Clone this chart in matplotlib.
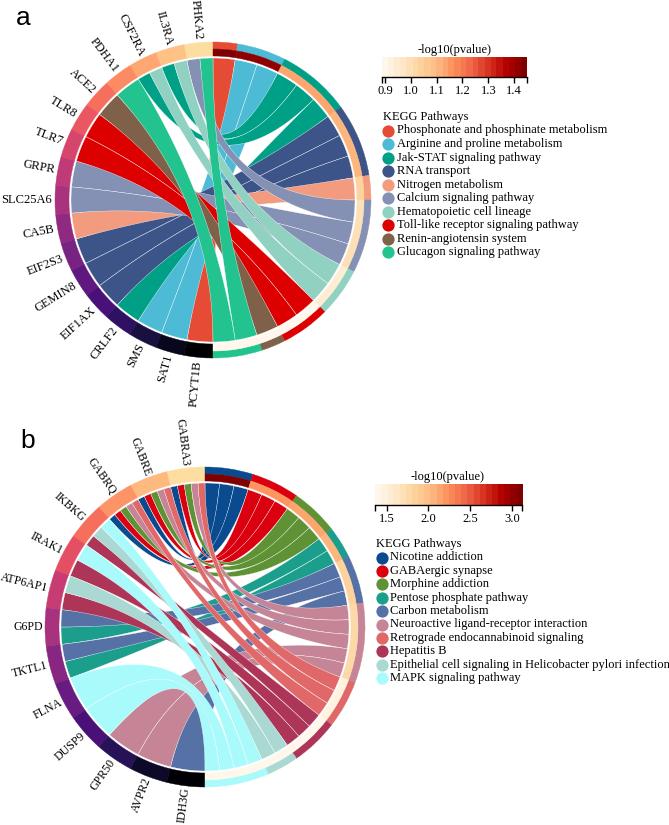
import numpy as np
import matplotlib
matplotlib.use('Agg')
import matplotlib.pyplot as plt
from matplotlib.patches import Wedge, Polygon
from matplotlib.colors import Normalize

plt.rcParams['font.family'] = ['Liberation Serif', 'DejaVu Serif']

# ---------------- Panel a data ----------------
genes_a = ['PHKA2', 'IL3RA', 'CSF2RA', 'PDHA1', 'ACE2', 'TLR8', 'TLR7', 'GRPR',
           'SLC25A6', 'CA5B', 'EIF2S3', 'GEMIN8', 'EIF1AX', 'CRLF2', 'SMS', 'SAT1', 'PCYT1B']
terms_a = ['Phosphonate and phosphinate metabolism', 'Arginine and proline metabolism',
           'Jak-STAT signaling pathway', 'RNA transport', 'Nitrogen metabolism',
           'Calcium signaling pathway', 'Hematopoietic cell lineage',
           'Toll-like receptor signaling pathway', 'Renin-angiotensin system',
           'Glucagon signaling pathway']
term_colors_a = ['#E64B35', '#4DBBD5', '#00A087', '#3C5488', '#F39B7F',
                 '#8491B4', '#91D1C2', '#DC0000', '#7E6148', '#22C38E']
logp_a = [1.44, 1.42, 1.13, 1.12, 1.03, 1.00, 0.95, 0.90, 0.90, 0.90]
links_a = {
    'PHKA2': ['Calcium signaling pathway', 'Glucagon signaling pathway'],
    'IL3RA': ['Jak-STAT signaling pathway', 'Hematopoietic cell lineage'],
    'CSF2RA': ['Jak-STAT signaling pathway', 'Hematopoietic cell lineage'],
    'PDHA1': ['Glucagon signaling pathway'],
    'ACE2': ['Renin-angiotensin system'],
    'TLR8': ['Toll-like receptor signaling pathway'],
    'TLR7': ['Toll-like receptor signaling pathway'],
    'GRPR': ['Calcium signaling pathway'],
    'SLC25A6': ['Calcium signaling pathway'],
    'CA5B': ['Nitrogen metabolism'],
    'EIF2S3': ['RNA transport'],
    'GEMIN8': ['RNA transport'],
    'EIF1AX': ['RNA transport'],
    'CRLF2': ['Jak-STAT signaling pathway'],
    'SMS': ['Arginine and proline metabolism'],
    'SAT1': ['Arginine and proline metabolism'],
    'PCYT1B': ['Phosphonate and phosphinate metabolism'],
}
cbar_range_a = (0.888, 1.45)
cbar_ticks_a = [0.9, 1.0, 1.1, 1.2, 1.3, 1.4]

# ---------------- Panel b data ----------------
genes_b = ['GABRA3', 'GABRE', 'GABRQ', 'IKBKG', 'IRAK1', 'ATP6AP1', 'G6PD', 'TKTL1',
           'FLNA', 'DUSP9', 'GPR50', 'AVPR2', 'IDH3G']
terms_b = ['Nicotine addiction', 'GABAergic synapse', 'Morphine addiction',
           'Pentose phosphate pathway', 'Carbon metabolism',
           'Neuroactive ligand-receptor interaction', 'Retrograde endocannabinoid signaling',
           'Hepatitis B', 'Epithelial cell signaling in Helicobacter pylori infection',
           'MAPK signaling pathway']
term_colors_b = ['#0A4A8E', '#DA0010', '#5E9234', '#1B9E8C', '#5671A6',
                 '#C68596', '#E06868', '#AD3558', '#A9D9D2', '#A9FAFA']
logp_b = [3.08, 2.20, 2.15, 2.05, 1.85, 1.75, 1.50, 1.42, 1.40, 1.37]
gaba_terms = ['Nicotine addiction', 'GABAergic synapse', 'Morphine addiction',
              'Neuroactive ligand-receptor interaction', 'Retrograde endocannabinoid signaling']
links_b = {
    'GABRA3': gaba_terms,
    'GABRE': gaba_terms,
    'GABRQ': gaba_terms,
    'IKBKG': ['Hepatitis B', 'Epithelial cell signaling in Helicobacter pylori infection',
              'MAPK signaling pathway'],
    'IRAK1': ['Hepatitis B', 'MAPK signaling pathway'],
    'ATP6AP1': ['Hepatitis B', 'Epithelial cell signaling in Helicobacter pylori infection'],
    'G6PD': ['Pentose phosphate pathway', 'Carbon metabolism'],
    'TKTL1': ['Pentose phosphate pathway', 'Carbon metabolism'],
    'FLNA': ['MAPK signaling pathway'],
    'DUSP9': ['MAPK signaling pathway'],
    'GPR50': ['Neuroactive ligand-receptor interaction'],
    'AVPR2': ['Neuroactive ligand-receptor interaction'],
    'IDH3G': ['Carbon metabolism'],
}
cbar_range_b = (1.36, 3.12)
cbar_ticks_b = [1.5, 2.0, 2.5, 3.0]

# ---------------- helpers ----------------
W, H = 669, 825
FS = 9
fig = plt.figure(figsize=(W / 100, H / 100), dpi=100)
cmap = matplotlib.colormaps['OrRd'].resampled(24)


def px_axes(x0, y0, w, h):
    return fig.add_axes([x0 / W, 1 - (y0 + h) / H, w / W, h / H])


def P(ang, r):
    a = np.deg2rad(ang)
    return np.array([r * np.cos(a), r * np.sin(a)])


def arc(a0, a1, r, n=40):
    t = np.deg2rad(np.linspace(a0, a1, n))
    return np.column_stack([r * np.cos(t), r * np.sin(t)])


def bez(p0, p2, n=80):
    t = np.linspace(0, 1, n)[:, None]
    return (1 - t) ** 2 * p0 + t ** 2 * p2


def chord(cx, cy, R, genes, terms, links, tcolors, logp, vrange, lfs, lpad):
    h = 215
    ax = px_axes(cx - h, cy - h, 2 * h, 2 * h)
    ax.set_xlim(-h, h)
    ax.set_ylim(-h, h)
    ax.axis('off')
    norm = Normalize(*vrange)
    ng = len(genes)
    w = 180.0 / ng
    gcols = matplotlib.colormaps['magma'](np.linspace(0.93, 0.0, ng))
    counts = [sum(t in links[g] for g in genes) for t in terms]
    total = sum(counts)
    u = 180.0 / total
    tops = [90 - u * sum(counts[:k]) for k in range(len(terms))]
    rr = R - 16
    # gene slots
    gslot = {}
    for i, g in enumerate(genes):
        tl = sorted([terms.index(t) for t in links[g]], reverse=True)
        k = len(tl)
        for j, ti in enumerate(tl):
            a0 = 90 + i * w + j * w / k
            gslot[(i, ti)] = (a0, a0 + w / k)
    # term slots
    tslot = {}
    for ti, t in enumerate(terms):
        gl = [i for i, g in enumerate(genes) if t in links[g]]
        for j, i in enumerate(gl):
            b1 = tops[ti] - j * u
            tslot[(i, ti)] = (b1 - u, b1)
    # ribbons
    pairs = sorted(gslot.keys(), key=lambda p: (p[1], p[0]))
    for (i, ti) in pairs:
        ga0, ga1 = gslot[(i, ti)]
        tb0, tb1 = tslot[(i, ti)]
        pts = np.vstack([arc(ga0, ga1, rr), bez(P(ga1, rr), P(tb0, rr)),
                         arc(tb0, tb1, rr), bez(P(tb1, rr), P(ga0, rr))])
        ax.add_patch(Polygon(pts, closed=True, fc=tcolors[ti], ec='white', lw=0.25))
    # gene ring + labels
    for i, g in enumerate(genes):
        a0 = 90 + i * w
        ax.add_patch(Wedge((0, 0), R, a0, a0 + w, width=14, fc=gcols[i], ec=gcols[i], lw=0.3))
        mid = a0 + w / 2
        x, y = P(mid, R + lpad)
        ax.text(x, y, g, rotation=mid - 180, rotation_mode='anchor', ha='right',
                va='center', fontsize=lfs)
    # term rings
    for ti in range(len(terms)):
        b1 = tops[ti]
        b0 = b1 - counts[ti] * u
        ax.add_patch(Wedge((0, 0), R, b0, b1, width=7, fc=tcolors[ti], ec=tcolors[ti], lw=0.3))
        pc = cmap(norm(logp[ti]))
        ax.add_patch(Wedge((0, 0), R - 7, b0, b1, width=7, fc=pc, ec=pc, lw=0.3))
    return ax


def colorbar(x0, y0, w, h, vrange, ticks):
    cax = px_axes(x0, y0, w, h)
    vmin, vmax = vrange
    grad = np.linspace(vmin, vmax, 256)[None, :]
    cax.imshow(grad, aspect='auto', cmap=cmap, norm=Normalize(vmin, vmax),
               extent=[vmin, vmax, 0, 1], interpolation='nearest')
    cax.set_xlim(vmin, vmax)
    cax.set_ylim(0, 1)
    cax.set_yticks([])
    for s in ['top', 'left', 'right']:
        cax.spines[s].set_visible(False)
    cax.spines['bottom'].set_linewidth(1.0)
    cax.set_xticks(ticks)
    cax.set_xticklabels([f'{t:.1f}' for t in ticks])
    cax.set_xticks([vmin, vmax], minor=True)
    cax.tick_params(axis='x', which='both', length=4, width=1, direction='out',
                    labelsize=FS, pad=2)
    return cax


chord(213, 200, 158, genes_a, terms_a, links_a, term_colors_a, logp_a, cbar_range_a, 9, 3)
chord(205, 627, 160, genes_b, terms_b, links_b, term_colors_b, logp_b, cbar_range_b, 8.6, 2)

colorbar(382, 57, 145, 20, cbar_range_a, cbar_ticks_a)
colorbar(375, 484, 147, 21, cbar_range_b, cbar_ticks_b)

ov = fig.add_axes([0, 0, 1, 1])
ov.set_xlim(0, W)
ov.set_ylim(H, 0)
ov.axis('off')
ov.patch.set_alpha(0)

ov.text(23, 18, 'a', fontsize=19, family='Liberation Sans', ha='center', va='center')
ov.text(28, 441, 'b', fontsize=19, family='Liberation Sans', ha='center', va='center')

ov.text(455, 50, '-log10(pvalue)', fontsize=FS, ha='center', va='center')
ov.text(448, 477, '-log10(pvalue)', fontsize=FS, ha='center', va='center')


def legend(x_title, y_title, x_dot, x_text, y0, dy, terms, colors):
    ov.text(x_title, y_title, 'KEGG Pathways', fontsize=FS, ha='left', va='center')
    for k, (t, c) in enumerate(zip(terms, colors)):
        y = y0 + k * dy
        ov.scatter([x_dot], [y], s=78, color=c, lw=0)
        ov.text(x_text, y, t, fontsize=FS, ha='left', va='center')


legend(383, 117, 388, 397, 130.5, 13.55, terms_a, term_colors_a)
legend(376, 544, 382, 390, 557.5, 13.4, terms_b, term_colors_b)

fig.savefig('out.png', dpi=100)
